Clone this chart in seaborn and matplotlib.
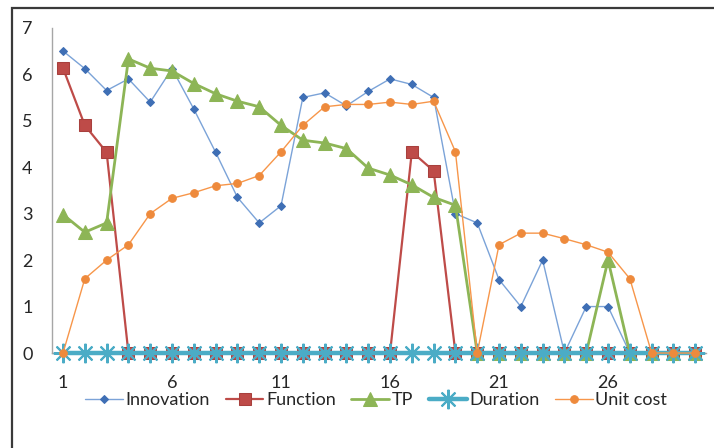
import matplotlib
matplotlib.use("Agg")
import matplotlib.pyplot as plt
import pandas as pd
import seaborn as sns
from matplotlib.patches import Rectangle

# ── Data ──────────────────────────────────────────────────────────────────────
periods = list(range(1, 31))

innovation = [6.5, 6.12, 5.65, 5.9, 5.4, 6.12, 5.25, 4.32, 3.35, 2.8,
              3.17, 5.5, 5.6, 5.32, 5.63, 5.9, 5.78, 5.5, 3.0, 2.8,
              1.58, 1.0, 2.0, 0, 1.0, 1.0, 0, 0, 0, 0]
function = [6.13, 4.9, 4.32, 0, 0, 0, 0, 0, 0, 0,
            0, 0, 0, 0, 0, 0, 4.33, 3.92, 0, 0,
            0, 0, 0, 0, 0, 0, 0, 0, 0, 0]
tp = [2.98, 2.6, 2.8, 6.33, 6.13, 6.07, 5.8, 5.58, 5.42, 5.3,
      4.9, 4.58, 4.52, 4.4, 3.98, 3.83, 3.62, 3.35, 3.18, 0,
      0, 0, 0, 0, 0, 2.0, 0, 0, 0, 0]
duration = [0] * 30
unit_cost = [0, 1.6, 2.0, 2.33, 3.0, 3.33, 3.45, 3.6, 3.65, 3.82,
             4.33, 4.9, 5.3, 5.35, 5.35, 5.4, 5.35, 5.42, 4.33, 0,
             2.33, 2.58, 2.58, 2.46, 2.33, 2.17, 1.6, 0, 0, 0]

x_ticks = [1, 6, 11, 16, 21, 26]
y_ticks = list(range(0, 8))

df = pd.DataFrame({
    "period": periods,
    "Innovation": innovation,
    "Function": function,
    "TP": tp,
    "Duration": duration,
    "Unit cost": unit_cost,
})

# ── Styles (Excel 2010 palette) ───────────────────────────────────────────────
styles = {
    "Innovation": dict(color="#7BA3D8", marker="D", markersize=4.5, linewidth=1.0,
                       markerfacecolor="#3F6FB5", markeredgecolor="#3F6FB5"),
    "Function": dict(color="#BE4B48", marker="s", markersize=8, linewidth=1.6,
                     markerfacecolor="#BE4B48", markeredgecolor="#A8403D"),
    "TP": dict(color="#8DB556", marker="^", markersize=9.5, linewidth=2.0,
               markerfacecolor="#8DB556", markeredgecolor="#8DB556"),
    "Duration": dict(color="#4BACC6", marker=(8, 2, 0), markersize=14, linewidth=3.2,
                     markerfacecolor="#4BACC6", markeredgecolor="#4BACC6",
                     markeredgewidth=1.5),
    "Unit cost": dict(color="#F7964A", marker="o", markersize=5.5, linewidth=1.0,
                      markerfacecolor="#EE8A3C", markeredgecolor="#EE8A3C"),
}

sns.set_theme(style="white")
plt.rcParams["font.family"] = ["Lato", "DejaVu Sans"]

fig = plt.figure(figsize=(7.14, 4.48), dpi=100)
ax = fig.add_axes([0.073, 0.212, 0.916, 0.726])

for i, (name, kw) in enumerate(styles.items()):
    kw = dict(kw)
    kw.setdefault("markeredgewidth", 0.75)
    sns.lineplot(data=df, x="period", y=name, ax=ax, label=name,
                 clip_on=False, zorder=3 + i, **kw)

ax.set_xlim(0.5, 30.5)
ax.set_ylim(0, 7)
ax.set_xticks(x_ticks)
ax.set_yticks(y_ticks)
ax.set_xlabel("")
ax.set_ylabel("")
ax.tick_params(axis="both", length=0, labelsize=13, colors="#262626")
ax.tick_params(axis="y", pad=14)
ax.tick_params(axis="x", pad=16)

for side in ["top", "right"]:
    ax.spines[side].set_visible(False)
for side in ["left", "bottom"]:
    ax.spines[side].set_color("#A6A6A6")
    ax.spines[side].set_linewidth(1.0)
    ax.spines[side].set_zorder(1)
ax.grid(False)

ax.get_legend().remove()
handles, labels = ax.get_legend_handles_labels()
fig.legend(handles, labels, loc="center", bbox_to_anchor=(0.527, 0.107),
           ncol=5, frameon=False, fontsize=13, handlelength=2.1,
           handletextpad=0.15, columnspacing=0.85, labelcolor="#262626")

# outer chart border (only left and top edges are visible in the crop)
fig.patches.append(Rectangle((12 / 714, -0.2), 1.2, 0.2 + (448 - 8) / 448,
                             transform=fig.transFigure, fill=False,
                             edgecolor="#3A3A3A", linewidth=1.6, zorder=10))

fig.savefig("out.png", dpi=100)
